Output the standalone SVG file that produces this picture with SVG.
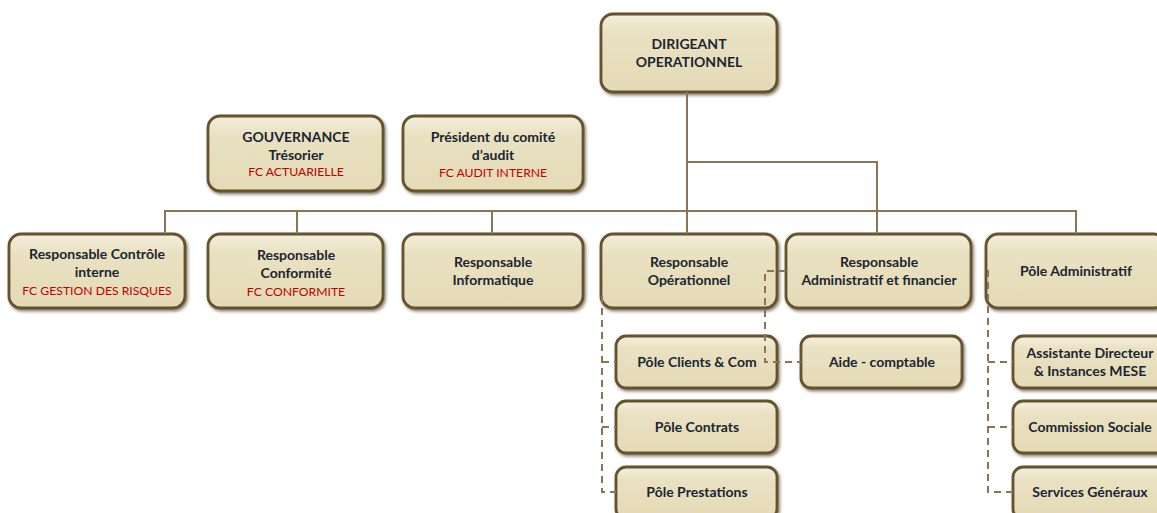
<svg xmlns="http://www.w3.org/2000/svg" width="1157" height="513" viewBox="0 0 1157 513">
<defs>
<linearGradient id="g" x1="0" y1="0" x2="0" y2="1">
<stop offset="0" stop-color="#F4EFDC"/>
<stop offset="0.25" stop-color="#E9E1C2"/>
<stop offset="1" stop-color="#E4DAB6"/>
</linearGradient>
<filter id="sh" x="-10%" y="-10%" width="125%" height="130%">
<feDropShadow dx="1.5" dy="2" stdDeviation="1.5" flood-color="#3a2e1e" flood-opacity="0.6"/>
</filter>
</defs>
<style>
.b{fill:url(#g);stroke:#65522F;stroke-width:2.8;filter:url(#sh)}
.t{font-family:Lato,"Open Sans","Liberation Sans",sans-serif;font-size:14px;font-weight:bold;fill:#1B2631;text-anchor:middle}
.r{font-family:Lato,"Open Sans","Liberation Sans",sans-serif;font-size:12.2px;fill:#C00000;text-anchor:middle}
.c{fill:none;stroke:#8A7454;stroke-width:2}
.d{fill:none;stroke:#8A7454;stroke-width:2;stroke-dasharray:7,5}
</style>
<rect width="1157" height="513" fill="#fff"/>
<g id="n-dirigeant"><rect class="b" x="601" y="14" width="176" height="78" rx="12"/><text class="t" x="689" y="49">DIRIGEANT</text><text class="t" x="689" y="67">OPERATIONNEL</text></g>
<g id="n-gouvernance"><rect class="b" x="208" y="116" width="175" height="75" rx="12"/><text class="t" x="296" y="142">GOUVERNANCE</text><text class="t" x="296" y="160">Trésorier</text><text class="r" x="296" y="176">FC ACTUARIELLE</text></g>
<g id="n-president"><rect class="b" x="403" y="116" width="180" height="75" rx="12"/><text class="t" x="493" y="142">Président du comité</text><text class="t" x="493" y="160">d’audit</text><text class="r" x="493" y="177">FC AUDIT INTERNE</text></g>
<g id="n-controle"><rect class="b" x="9" y="234" width="176" height="74" rx="12"/><text class="t" x="97" y="259">Responsable Contrôle</text><text class="t" x="97" y="277">interne</text><text class="r" x="97" y="295">FC GESTION DES RISQUES</text></g>
<g id="n-conformite"><rect class="b" x="208" y="234" width="175" height="74" rx="12"/><text class="t" x="296" y="260">Responsable</text><text class="t" x="296" y="278">Conformité</text><text class="r" x="296" y="296">FC CONFORMITE</text></g>
<g id="n-informatique"><rect class="b" x="403" y="234" width="180" height="74" rx="12"/><text class="t" x="493" y="267">Responsable</text><text class="t" x="493" y="285">Informatique</text></g>
<g id="n-operationnel"><rect class="b" x="601" y="234" width="176" height="74" rx="12"/><text class="t" x="689" y="267">Responsable</text><text class="t" x="689" y="285">Opérationnel</text></g>
<g id="n-adminfin"><rect class="b" x="786" y="234" width="185" height="74" rx="12"/><text class="t" x="879" y="267">Responsable</text><text class="t" x="879" y="285">Administratif et financier</text></g>
<g id="n-poleadmin"><rect class="b" x="986" y="234" width="180" height="74" rx="12"/><text class="t" x="1076" y="276">Pôle Administratif</text></g>
<g id="n-clients"><rect class="b" x="616" y="336" width="161" height="52" rx="10"/><text class="t" x="697" y="367">Pôle Clients &amp; Com</text></g>
<g id="n-contrats"><rect class="b" x="616" y="401" width="161" height="52" rx="10"/><text class="t" x="697" y="432">Pôle Contrats</text></g>
<g id="n-prestations"><rect class="b" x="616" y="467" width="161" height="52" rx="10"/><text class="t" x="697" y="497">Pôle Prestations</text></g>
<g id="n-aide"><rect class="b" x="801" y="336" width="161" height="52" rx="10"/><text class="t" x="882" y="367">Aide - comptable</text></g>
<g id="n-assistante"><rect class="b" x="1013" y="336" width="161" height="52" rx="10"/><text class="t" x="1090" y="358">Assistante Directeur</text><text class="t" x="1090" y="376">&amp; Instances MESE</text></g>
<g id="n-commission"><rect class="b" x="1013" y="401" width="161" height="52" rx="10"/><text class="t" x="1090" y="432">Commission Sociale</text></g>
<g id="n-services"><rect class="b" x="1013" y="467" width="161" height="52" rx="10"/><text class="t" x="1090" y="497">Services Généraux</text></g>
<g id="connectors">
<path class="c" d="M687 92V234M165 234V211H1076V234M297 211V234M492 211V234M687 162H877V234"/>
<path class="d" d="M602 296V492H616M602 362H616M602 427H616"/>
<path class="d" d="M786 271H765V362H801"/>
<path class="d" d="M988 270V492H1013M988 362H1013M988 427H1013"/>
</g>
</svg>
